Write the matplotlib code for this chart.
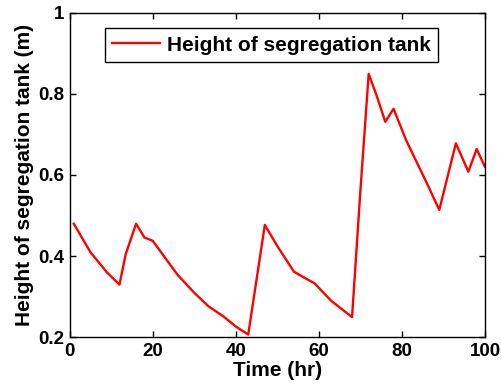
import matplotlib
matplotlib.use('Agg')
import matplotlib.pyplot as plt

plt.rcParams['font.family'] = ['Liberation Sans', 'DejaVu Sans']
plt.rcParams['font.weight'] = 'bold'

# Data
time_hr = [1, 3, 5, 7, 9, 12, 13.5, 16, 18, 20, 23, 26, 30, 33.5, 37, 40, 43,
           47, 50, 54, 56, 59, 63, 68, 70, 72, 74, 76, 78, 81, 86, 89, 93, 96, 98, 100]
height_m = [0.48, 0.445, 0.41, 0.385, 0.36, 0.33, 0.405, 0.48, 0.446, 0.438, 0.396, 0.354,
            0.31, 0.276, 0.252, 0.227, 0.207,
            0.477, 0.425, 0.362, 0.35, 0.333, 0.29, 0.25, 0.56, 0.849, 0.793, 0.731,
            0.763, 0.686, 0.58, 0.514, 0.678, 0.608, 0.664, 0.62]
x_ticks = [0, 20, 40, 60, 80, 100]
y_ticks = [0.2, 0.4, 0.6, 0.8, 1]
y_tick_labels = ['0.2', '0.4', '0.6', '0.8', '1']

fig = plt.figure(figsize=(5.01, 3.91), dpi=100)
ax = fig.add_axes([0.139, 0.137, 0.829, 0.831])

ax.plot(time_hr, height_m, color='red', lw=1.7, label='Height of segregation tank')

ax.set_xlim(0, 100)
ax.set_ylim(0.2, 1)
ax.set_xticks(x_ticks)
ax.set_yticks(y_ticks)
ax.set_yticklabels(y_tick_labels)
ax.tick_params(direction='in', top=True, right=True, labelsize=13.5, length=4, width=1, pad=4)
for lbl in ax.get_xticklabels() + ax.get_yticklabels():
    lbl.set_fontweight('bold')
for sp in ax.spines.values():
    sp.set_linewidth(1)

ax.set_xlabel('Time (hr)', fontsize=15, fontweight='bold', labelpad=1)
ax.set_ylabel('Height of segregation tank (m)', fontsize=15, fontweight='bold', labelpad=3)

leg = ax.legend(loc='upper left', bbox_to_anchor=(0.0854, 0.951), borderaxespad=0,
                fancybox=False, edgecolor='black', framealpha=1,
                prop={'size': 15, 'weight': 'bold'}, handlelength=2.3,
                handletextpad=0.3, borderpad=0.35)
leg.get_frame().set_linewidth(1)

fig.savefig('out.png', dpi=100)
